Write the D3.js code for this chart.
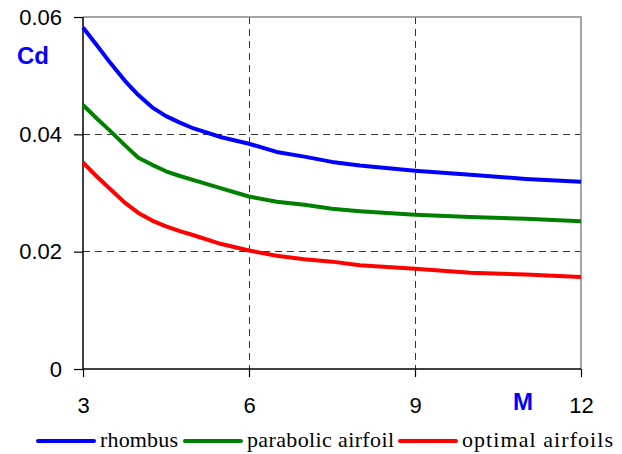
<!doctype html>
<html lang='en'>
<head>
<meta charset='UTF-8'>
<title>Cd vs M</title>
<style>
  body, html { margin: 0; padding: 0; background: #fff; }
  .tick-label { font-family: 'Liberation Sans', Arial, sans-serif; font-size: 22px; fill: #000; }
  .axis-title { font-family: 'Liberation Sans', Arial, sans-serif; font-size: 24px; font-weight: bold; fill: #0000ff; }
  .legend-text { font-family: 'Liberation Serif', 'Times New Roman', serif; font-size: 22px; fill: #000; }
  .grid { stroke: #333; stroke-width: 1; stroke-dasharray: 7,5; shape-rendering: crispEdges; }
  .series { fill: none; stroke-width: 4; stroke-linejoin: round; }
</style>
</head>
<body>
<script src='https://d3js.org/d3.v7.min.js'></script>
<script>
  // Mach number
  const mach = [3, 3.25, 3.5, 3.75, 4, 4.25, 4.5, 4.75, 5, 5.5, 6, 6.5, 7, 7.5, 8, 9, 10, 11, 12]
  // drag coefficients
  const rhombus   = [0.0582, 0.0552, 0.0521, 0.0492, 0.0467, 0.0446, 0.0431, 0.0420, 0.0410, 0.0395, 0.0384, 0.0370, 0.0362, 0.0353, 0.0347, 0.0338, 0.0331, 0.0324, 0.0319]
  const parabolic = [0.0450, 0.0427, 0.0405, 0.0382, 0.0360, 0.0348, 0.0337, 0.0329, 0.0322, 0.0308, 0.0294, 0.0285, 0.0280, 0.0273, 0.0269, 0.0263, 0.0259, 0.0256, 0.0252]
  const optimal   = [0.0352, 0.0328, 0.0306, 0.0284, 0.0266, 0.0253, 0.0243, 0.0235, 0.0228, 0.0213, 0.0202, 0.0193, 0.0187, 0.0183, 0.0177, 0.0171, 0.0164, 0.0161, 0.0157]

  const seriesNames = ['rhombus', 'parabolic airfoil', 'optimal airfoils']
  const seriesColors = ['#0000ff', '#008000', '#ff0000']
  const xTicks = [3, 6, 9, 12]
  const yTicks = [0, 0.02, 0.04, 0.06]
  const yTickLabels = ['0', '0.02', '0.04', '0.06']

  const w = 622, h = 454
  const margin = {left: 83, right: 41, top: 17, bottom: 85}

  const x = d3.scaleLinear().domain([3, 12]).range([margin.left, w - margin.right])
  const y = d3.scaleLinear().domain([0, 0.06]).range([h - margin.bottom, margin.top])

  const svg = d3.select('body').append('svg')
    .attr('width', w)
    .attr('height', h)

  // grid
  svg.append('g').selectAll('line')
    .data(yTicks.slice(1, -1))
    .join('line')
    .classed('grid', true)
    .attr('x1', x(3)).attr('x2', x(12))
    .attr('y1', d => y(d)).attr('y2', d => y(d))

  svg.append('g').selectAll('line')
    .data(xTicks.slice(1, -1))
    .join('line')
    .classed('grid', true)
    .attr('x1', d => x(d)).attr('x2', d => x(d))
    .attr('y1', y(0.06)).attr('y2', y(0))

  // frame top/right
  svg.append('path')
    .attr('d', `M${x(3)},${y(0.06)}H${x(12)}V${y(0)}`)
    .attr('fill', 'none')
    .attr('stroke', '#888')
    .attr('stroke-width', 1.5)

  // axes
  const yAxis = d3.axisLeft(y).tickValues(yTicks).tickSize(9).tickFormat((d, i) => yTickLabels[i]).tickPadding(12)
  const xAxis = d3.axisBottom(x).tickValues(xTicks).tickSize(8).tickPadding(20)

  const gy = svg.append('g')
    .attr('transform', `translate(${margin.left},0)`)
    .call(yAxis)
  const gx = svg.append('g')
    .attr('transform', `translate(0,${y(0)})`)
    .call(xAxis)

  ;[gx, gy].forEach(g => {
    g.select('.domain').attr('stroke', '#000').attr('stroke-width', 1.5)
    g.selectAll('.tick line').attr('stroke', '#000').attr('stroke-width', 1.2)
    g.selectAll('.tick text').attr('class', 'tick-label').attr('font-size', null).attr('font-family', null)
  })
  gy.select('.domain').attr('d', `M0,${y(0.06)}V${y(0)}`)
  gx.select('.domain').attr('d', `M${x(3)},0H${x(12)}`)

  // axis titles
  svg.append('text').classed('axis-title', true)
    .attr('x', 17).attr('y', 64)
    .text('Cd')
  svg.append('text').classed('axis-title', true)
    .attr('x', 513).attr('y', 410)
    .text('M')

  // lines
  const line = d3.line()
    .x((d, i) => x(mach[i]))
    .y(d => y(d))

  const seriesData = [rhombus, parabolic, optimal]
  svg.append('g').selectAll('path')
    .data(seriesData)
    .join('path')
    .classed('series', true)
    .attr('stroke', (d, i) => seriesColors[i])
    .attr('d', line)

  // legend
  const legendX = [38, 185, 400]
  const legendTextW = [78, 147, 151]
  const legend = svg.append('g').selectAll('g')
    .data(seriesNames)
    .join('g')
    .attr('transform', (d, i) => `translate(${legendX[i]},441)`)

  legend.append('line')
    .attr('x1', 0).attr('x2', 56)
    .attr('stroke', (d, i) => seriesColors[i])
    .attr('stroke-width', 4)
    .attr('stroke-linecap', 'round')

  legend.append('text')
    .classed('legend-text', true)
    .attr('x', 62).attr('y', 6)
    .attr('textLength', (d, i) => legendTextW[i])
    .attr('lengthAdjust', 'spacing')
    .text(d => d)
</script>
</body>
</html>
